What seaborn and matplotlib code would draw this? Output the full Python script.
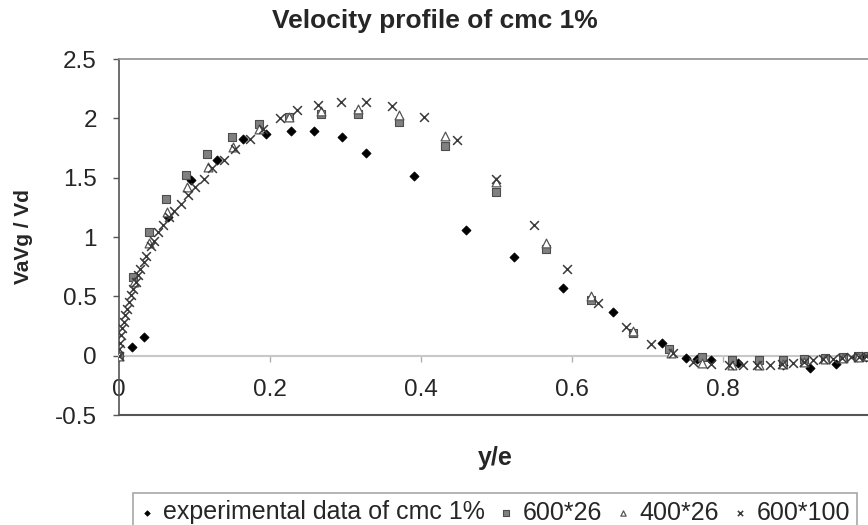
import matplotlib
matplotlib.use("Agg")
import matplotlib.pyplot as plt
import seaborn as sns
import pandas as pd

# Velocity profile data (y/e vs VaVg/Vd)
exp_x = [0, 0.017, 0.033, 0.065, 0.095, 0.13, 0.164, 0.195, 0.228, 0.258, 0.295, 0.327, 0.391,
         0.46, 0.523, 0.588, 0.654, 0.719, 0.751, 0.766, 0.784, 0.82, 0.88, 0.915, 0.95, 0.977, 0.99]
exp_y = [0, 0.07, 0.16, 1.17, 1.48, 1.65, 1.83, 1.87, 1.89, 1.89, 1.84, 1.71, 1.51,
         1.06, 0.83, 0.57, 0.37, 0.11, -0.02, -0.03, -0.04, -0.06, -0.08, -0.10, -0.07, -0.01, -0.01]

m600x26_x = [0, 0.019, 0.040, 0.062, 0.089, 0.117, 0.150, 0.185, 0.225, 0.268, 0.317, 0.371, 0.432,
             0.499, 0.566, 0.625, 0.681, 0.729, 0.772, 0.812, 0.848, 0.880, 0.907, 0.935, 0.959, 0.979, 0.992]
m600x26_y = [0, 0.66, 1.04, 1.32, 1.52, 1.70, 1.84, 1.95, 2.01, 2.04, 2.04, 1.97, 1.77,
             1.38, 0.90, 0.47, 0.19, 0.06, -0.01, -0.04, -0.04, -0.04, -0.03, -0.02, -0.01, 0.0, 0.0]

m400x26_x = [0, 0.020, 0.040, 0.063, 0.090, 0.118, 0.151, 0.186, 0.225, 0.268, 0.317, 0.371, 0.432,
             0.499, 0.566, 0.625, 0.681, 0.731, 0.772, 0.812, 0.848, 0.880, 0.907, 0.935, 0.959, 0.979, 0.992]
m400x26_y = [0, 0.62, 0.95, 1.21, 1.42, 1.59, 1.76, 1.91, 2.01, 2.06, 2.08, 2.03, 1.85,
             1.46, 0.95, 0.50, 0.21, 0.02, -0.06, -0.08, -0.08, -0.07, -0.05, -0.03, -0.02, -0.01, 0.0]

m600x100_x = [0, 0.0, 0.001, 0.003, 0.004, 0.006, 0.008, 0.011, 0.013, 0.016, 0.019, 0.022, 0.025, 0.028,
              0.033, 0.036, 0.042, 0.046, 0.052, 0.058, 0.066, 0.073, 0.082, 0.091, 0.101, 0.112, 0.123, 0.139,
              0.154, 0.173, 0.191, 0.213, 0.236, 0.264, 0.294, 0.327, 0.362, 0.404, 0.448, 0.499, 0.550,
              0.593, 0.635, 0.672, 0.705, 0.734, 0.760, 0.784, 0.808, 0.827, 0.845, 0.862, 0.878, 0.893,
              0.907, 0.919, 0.932, 0.946, 0.958, 0.970, 0.980, 0.990]
m600x100_y = [0, 0.06, 0.11, 0.17, 0.23, 0.28, 0.34, 0.39, 0.45, 0.51, 0.56, 0.62, 0.68, 0.73,
              0.79, 0.84, 0.92, 0.97, 1.04, 1.10, 1.17, 1.22, 1.28, 1.35, 1.42, 1.49, 1.58, 1.65,
              1.74, 1.83, 1.91, 2.00, 2.07, 2.11, 2.14, 2.14, 2.10, 2.01, 1.82, 1.49, 1.10,
              0.73, 0.44, 0.24, 0.10, 0.02, -0.05, -0.07, -0.08, -0.08, -0.08, -0.08, -0.07, -0.06,
              -0.05, -0.04, -0.03, -0.03, -0.02, -0.01, -0.01, 0.0]

y_ticks = [-0.5, 0, 0.5, 1, 1.5, 2, 2.5]
y_tick_labels = ["-0.5", "0", "0.5", "1", "1.5", "2", "2.5"]
x_ticks = [0, 0.2, 0.4, 0.6, 0.8]
x_tick_labels = ["0", "0.2", "0.4", "0.6", "0.8"]

sns.set_style("white")
plt.rcParams['font.family'] = ['Liberation Sans', 'DejaVu Sans']

fig = plt.figure(figsize=(8.68, 5.25), dpi=100)
ax = fig.add_axes([119 / 868, 110 / 525, 749 / 868, 356 / 525])

sns.scatterplot(x=exp_x, y=exp_y, marker="D", s=22, color="black", edgecolor="black",
                linewidth=0.5, label="experimental data of cmc 1%", ax=ax, zorder=3)
sns.scatterplot(x=m600x26_x, y=m600x26_y, marker="s", s=40, color="#808080", edgecolor="#4d4d4d",
                linewidth=0.8, label="600*26", ax=ax, zorder=4)
sns.scatterplot(x=m400x26_x, y=m400x26_y, marker="^", s=40, color="white", edgecolor="#555555",
                linewidth=0.9, label="400*26", ax=ax, zorder=5)
sns.scatterplot(x=m600x100_x, y=m600x100_y, marker="x", s=40, color="#3a3a3a",
                linewidth=1.1, label="600*100", ax=ax, zorder=6)

ax.set_xlim(0, 749 / 755)
ax.set_ylim(-0.5, 2.5)
ax.set_yticks(y_ticks)
ax.set_yticklabels(y_tick_labels)
ax.set_xticks(x_ticks)
ax.set_xticklabels(x_tick_labels)

# Excel-style axes: x axis crosses at y=0, plot area border around
ax.spines['bottom'].set_position(('data', 0))
ax.spines['bottom'].set_color("#c8c8c8")
ax.spines['bottom'].set_linewidth(1.5)
ax.spines['left'].set_color("#555555")
ax.spines['left'].set_linewidth(1.2)
ax.spines['top'].set_color("#909090")
ax.spines['top'].set_linewidth(1.2)
ax.spines['right'].set_visible(False)
ax.axhline(-0.5, color="#555555", linewidth=1.5, clip_on=False, zorder=2)

ax.tick_params(axis='y', direction='out', length=4, width=1, color="#555555",
               pad=12, labelsize=17.5, left=True)
ax.tick_params(axis='x', direction='out', length=4, width=1, color="#b0b0b0",
               pad=13, labelsize=17.5, bottom=True)

ax.set_xlabel("y/e", fontsize=18, fontweight='bold')
ax.xaxis.label.set_va('center')
ax.xaxis.set_label_coords(0.503, -0.121)
ax.set_ylabel("VaVg / Vd", fontsize=15, fontweight='bold')
ax.yaxis.set_label_coords(-0.115, 0.5)

fig.text(435 / 868, 1 - 21 / 525, "Velocity profile of cmc 1%", ha='center', va='center',
         fontsize=19, fontweight='bold')

ax.get_legend().remove()
handles, labels = ax.get_legend_handles_labels()
leg = fig.legend(handles, labels, loc='upper left', bbox_to_anchor=(133 / 868, 1 - 493 / 525),
                 ncol=4, fontsize=18, frameon=True, fancybox=False, edgecolor="#909090",
                 handlelength=0.5, handletextpad=0.4, columnspacing=0.6, borderpad=0.3,
                 markerscale=0.6, borderaxespad=0)
leg.get_frame().set_linewidth(1.2)

fig.savefig("out.png", dpi=100)
